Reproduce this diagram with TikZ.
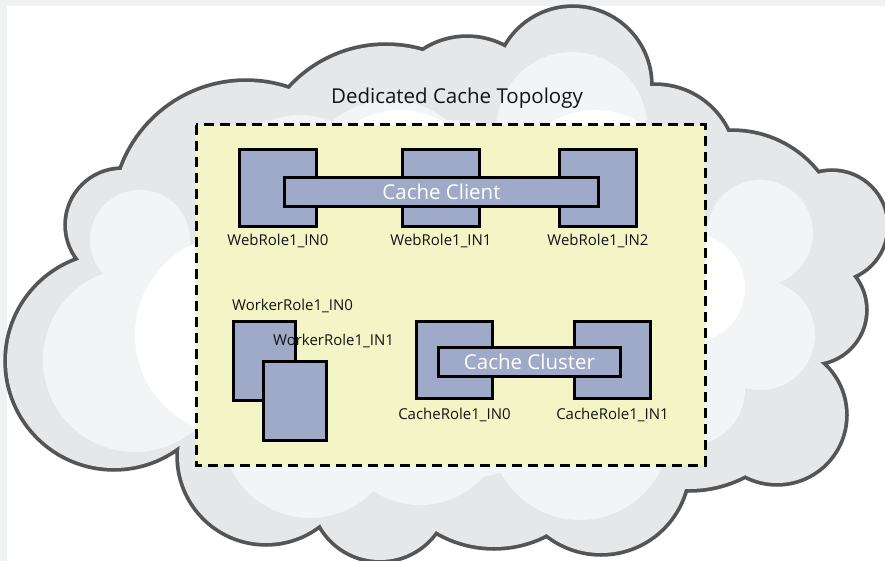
\documentclass[tikz,border=0pt]{standalone}
\usepackage{fontspec}
\setmainfont{Open Sans}
\usetikzlibrary{positioning}
\definecolor{framebg}{RGB}{240,241,243}
\definecolor{cloudline}{RGB}{85,85,85}
\definecolor{cloudfill}{RGB}{230,231,232}
\definecolor{cloudlight}{RGB}{243,244,246}
\definecolor{zonefill}{RGB}{243,245,198}
\definecolor{rolefill}{RGB}{159,169,200}
\definecolor{labelcolor}{RGB}{20,20,20}

\newcommand{\cloudlobes}{(386,176) circle[radius=130] (467,117) circle[radius=79]
  (573,85) circle[radius=77] (655,166) circle[radius=80] (732,241) circle[radius=109]
  (832,226) circle[radius=54] (812,310) circle[radius=53] (777,415) circle[radius=68]
  (689,369) circle[radius=120] (601,466) circle[radius=87] (494,434) circle[radius=113]
  (380,492) circle[radius=68] (266,456) circle[radius=87] (114,361) circle[radius=107]
  (122,225) circle[radius=55] (246,214) circle[radius=132] (450,290) circle[radius=200]}

\begin{document}
\begin{tikzpicture}[x=1pt, y=-1pt,
    rolebox/.style={rectangle, draw=black, line width=3pt, fill=rolefill, minimum width=77pt, minimum height=77pt, inner sep=0pt},
    servicebar/.style={rectangle, draw=black, line width=3pt, fill=rolefill, minimum height=29pt, inner sep=0pt, text=white, font=\fontsize{20.5}{24}\selectfont},
    rolelabel/.style={inner sep=0pt, text=labelcolor, font=\fontsize{15}{18}\selectfont},
    zone/.style={draw=black, line width=3pt, dash pattern=on 10pt off 6pt, fill=zonefill},
]

\useasboundingbox (0,0) rectangle (885,561);
\fill[framebg] (0,0) rectangle (885,561);
\fill[white] (7,6) rectangle (885,561);

\draw[cloudline, line width=7.5pt] \cloudlobes;
\fill[cloudfill] \cloudlobes;
\begin{scope}
  \clip \cloudlobes;
  \fill[cloudlight] (140,240) circle[radius=50] (135,360) circle[radius=92]
    (310,430) circle[radius=88] (420,420) circle[radius=85] (580,430) circle[radius=90]
    (690,390) circle[radius=55] (760,335) circle[radius=55] (760,233) circle[radius=53]
    (572,127) circle[radius=75] (300,200) circle[radius=85] (390,190) circle[radius=90]
    (450,300) circle[radius=180];
  \fill[white] (235,335) circle[radius=100] (690,288) circle[radius=55]
    (400,195) circle[radius=85] (595,195) circle[radius=85];
\end{scope}

\node[text=labelcolor, font=\fontsize{20.5}{24}\selectfont] (title) at (457,98) {Dedicated Cache Topology};
\draw[zone] (196,125) rectangle (705,465);

\node[rolebox] (web0) at (278,188) {};
\node[rolebox] (web1) at (441,188) {};
\node[rolebox] (web2) at (598,188) {};
\node[servicebar, minimum width=314pt] (client) at (441.5,192) {Cache Client};

\node[rolebox, minimum width=62pt, minimum height=79pt] (worker0) at (264.5,361) {};
\node[rolebox, minimum width=63pt, minimum height=79pt] (worker1) at (295,401) {};

\node[rolebox, minimum width=76pt] (cache0) at (454.5,360) {};
\node[rolebox, minimum width=76pt] (cache1) at (612.5,360) {};
\node[servicebar, minimum width=182pt] (cluster) at (529.5,361.5) {Cache Cluster};

\node[rolelabel, below=6pt of web0] {WebRole1\_IN0};
\node[rolelabel, below=6pt of web1] {WebRole1\_IN1};
\node[rolelabel, below=6pt of web2] {WebRole1\_IN2};
\node[rolelabel, above right=7pt and 0pt of worker0.north west] {WorkerRole1\_IN0};
\node[rolelabel, above right=12pt and 11pt of worker1.north west] {WorkerRole1\_IN1};
\node[rolelabel, below=8pt of cache0] {CacheRole1\_IN0};
\node[rolelabel, below=8pt of cache1] {CacheRole1\_IN1};

\end{tikzpicture}
\end{document}
